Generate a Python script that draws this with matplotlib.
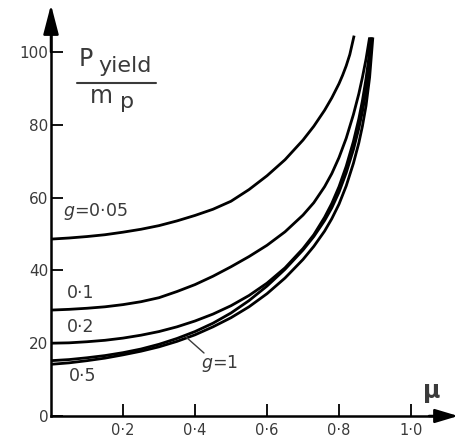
import numpy as np
import matplotlib
matplotlib.use("Agg")
import matplotlib.pyplot as plt

# values (mu, P_yield / m_p)
mu_005 = [0.0, 0.05, 0.1, 0.15, 0.2, 0.25, 0.3, 0.35, 0.4, 0.45, 0.5, 0.55, 0.6, 0.65,
          0.7, 0.73, 0.76, 0.78, 0.8, 0.81, 0.82, 0.83, 0.842]
p_005 = [48.6, 48.9, 49.3, 49.8, 50.5, 51.3, 52.3, 53.6, 55.1, 56.8, 59.0, 62.2, 66.0, 70.4,
         75.8, 79.6, 84.0, 87.4, 91.3, 93.6, 96.2, 99.3, 104.5]

mu_01 = [0.0, 0.05, 0.1, 0.15, 0.2, 0.25, 0.3, 0.35, 0.4, 0.45, 0.5, 0.55, 0.6, 0.65,
         0.7, 0.73, 0.76, 0.78, 0.8, 0.82, 0.84, 0.855, 0.865, 0.875, 0.885]
p_01 = [29.1, 29.3, 29.6, 30.0, 30.6, 31.4, 32.5, 34.2, 36.1, 38.4, 41.0, 43.8, 46.9, 50.6,
        55.2, 58.6, 63.0, 66.6, 71.0, 76.3, 82.8, 88.5, 93.0, 98.0, 104.0]

mu_02 = [0.0, 0.05, 0.1, 0.15, 0.2, 0.25, 0.3, 0.35, 0.4, 0.45, 0.5, 0.55, 0.6, 0.65,
         0.7, 0.73, 0.76, 0.78, 0.8, 0.82, 0.84, 0.855, 0.865, 0.875, 0.882, 0.888]
p_02 = [20.0, 20.1, 20.4, 20.8, 21.4, 22.2, 23.2, 24.5, 26.1, 28.0, 30.3, 33.1, 36.5, 40.7,
        46.0, 49.8, 54.6, 58.4, 63.0, 68.6, 75.4, 81.6, 86.6, 92.6, 97.8, 104.0]

mu_05 = [0.0, 0.05, 0.1, 0.15, 0.2, 0.25, 0.3, 0.35, 0.4, 0.45, 0.5, 0.55, 0.6, 0.65,
         0.7, 0.73, 0.76, 0.78, 0.8, 0.82, 0.84, 0.855, 0.865, 0.875, 0.884, 0.891]
p_05 = [15.2, 15.5, 16.0, 16.6, 17.4, 18.4, 19.7, 21.3, 23.2, 25.5, 28.3, 31.7, 35.7, 40.3,
        45.6, 49.3, 53.7, 57.2, 61.5, 66.8, 73.2, 79.0, 83.6, 89.2, 96.0, 104.0]

mu_1 = [0.0, 0.05, 0.1, 0.15, 0.2, 0.25, 0.3, 0.35, 0.4, 0.45, 0.5, 0.55, 0.6, 0.65,
        0.7, 0.73, 0.76, 0.78, 0.8, 0.82, 0.84, 0.855, 0.865, 0.875, 0.885, 0.894]
p_1 = [14.2, 14.6, 15.2, 15.9, 16.8, 17.8, 19.0, 20.5, 22.3, 24.5, 27.0, 30.0, 33.6, 37.9,
       43.0, 46.6, 50.8, 54.2, 58.2, 63.2, 69.4, 75.0, 79.6, 85.2, 93.0, 104.0]

x_ticks = [0.2, 0.4, 0.6, 0.8, 1.0]
x_labels = ["0·2", "0·4", "0·6", "0·8", "1·0"]
y_ticks = [0, 20, 40, 60, 80, 100]
y_labels = ["0", "20", "40", "60", "80", "100"]

W, H = 459, 437
TXT = "#3a3a3a"


def fp(x, y):
    # pixel position (from top-left) -> figure fraction
    return x / W, 1 - y / H


fig = plt.figure(figsize=(W / 100, H / 100), dpi=100)
ax = fig.add_axes([0, 0, 1, 1])
ax.set_xlim(-51 / 360, 408 / 360)
ax.set_ylim(-21 / 3.64, 416 / 3.64)

for m, p in [(mu_005, p_005), (mu_01, p_01), (mu_02, p_02), (mu_05, p_05), (mu_1, p_1)]:
    ax.plot(m, p, color="black", lw=2.0, solid_capstyle="butt", solid_joinstyle="round")

# axes drawn as arrows
for s in ["top", "right"]:
    ax.spines[s].set_visible(False)
ax.spines["left"].set_position(("data", 0))
ax.spines["bottom"].set_position(("data", 0))
ax.spines["left"].set_bounds(0, 108)
ax.spines["bottom"].set_bounds(0, 1.1)
ax.spines["left"].set_linewidth(1.8)
ax.spines["bottom"].set_linewidth(1.8)
ax.annotate("", xy=(0, 113.0), xytext=(0, 100), xycoords="data",
            arrowprops=dict(arrowstyle="-|>,head_length=1.0,head_width=0.26",
                            mutation_scale=18, color="black", lw=1.8, shrinkA=0, shrinkB=0))
ax.annotate("", xy=(1.131, 0), xytext=(1.05, 0), xycoords="data",
            arrowprops=dict(arrowstyle="-|>,head_length=1.0,head_width=0.3",
                            mutation_scale=14, color="black", lw=1.8, shrinkA=0, shrinkB=0))

ax.set_xticks(x_ticks)
ax.set_xticklabels(x_labels)
ax.set_yticks(y_ticks)
ax.set_yticklabels(y_labels)
ax.tick_params(axis="both", direction="in", length=8.5, width=1.3, colors="black",
               labelcolor=TXT, labelsize=11)
ax.tick_params(axis="x", pad=5, labelsize=10.5)
ax.tick_params(axis="y", pad=2)

# curve labels
fig.text(*fp(63, 212), r"$g$=0·05", fontsize=12.5, color=TXT, va="center", ha="left")
fig.text(*fp(67, 293), "0·1", fontsize=12.5, color=TXT, va="center", ha="left")
fig.text(*fp(67, 327), "0·2", fontsize=12.5, color=TXT, va="center", ha="left")
fig.text(*fp(69, 376), "0·5", fontsize=12.5, color=TXT, va="center", ha="left")
fig.text(*fp(201, 363), r"$g$=1", fontsize=12.5, color=TXT, va="center", ha="left")
ax.annotate("", xy=fp(186, 337), xytext=fp(204, 353), xycoords="figure fraction",
            textcoords="figure fraction",
            arrowprops=dict(arrowstyle="-", color=TXT, lw=1.0, shrinkA=0, shrinkB=0))

# y-axis quantity as a fraction
fig.text(*fp(79, 66), "P", fontsize=17, color=TXT, va="baseline", ha="left")
fig.text(*fp(98, 72), "yield", fontsize=16, color=TXT, va="baseline", ha="left")
ax.annotate("", xy=fp(77, 83), xytext=fp(156, 83), xycoords="figure fraction",
            textcoords="figure fraction",
            arrowprops=dict(arrowstyle="-", color=TXT, lw=1.5, shrinkA=0, shrinkB=0))
fig.text(*fp(90, 103), "m", fontsize=17, color=TXT, va="baseline", ha="left")
fig.text(*fp(120, 108), "p", fontsize=16, color=TXT, va="baseline", ha="left")

fig.text(*fp(432, 391), "μ", fontsize=17, fontweight="bold", color=TXT, va="center", ha="center")

fig.savefig("out.png", dpi=100)
